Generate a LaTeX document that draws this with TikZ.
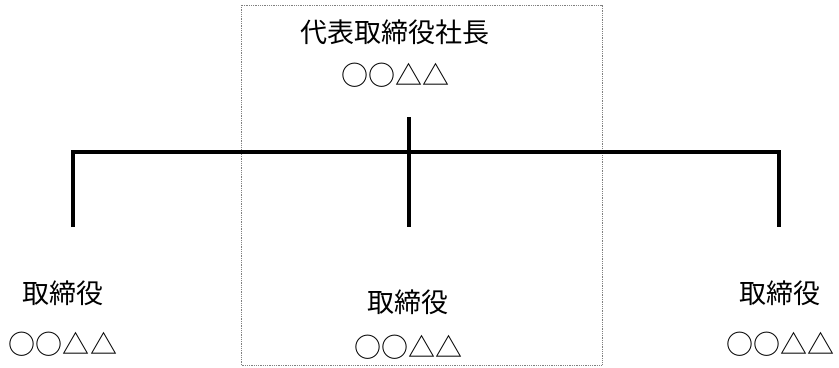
\documentclass[tikz,border=0pt]{standalone}
\usepackage{fontspec}
\setmainfont{Noto Sans CJK JP}
\begin{document}
\begin{tikzpicture}[x=1bp, y=1bp, node distance=51bp, align=center]
  \tikzstyle{post} = [inner sep=0pt, font=\fontsize{27bp}{31bp}\selectfont]
  \tikzstyle{link} = [line width=3.5bp, line join=miter]
  \tikzstyle{frame} = [densely dotted, line width=0.8bp, gray]

  \useasboundingbox (0,0) rectangle (839,367);
  \draw[frame] (241,2) rectangle (602,362);

  \node[post] (pres) at (395,335) {代表取締役社長};
  \node[post, below of=pres, node distance=43bp] (presname) {○○△△};
  \node[post] (left) at (63,74) {取締役};
  \node[post, below of=left] (leftname) {○○△△};
  \node[post] (mid) at (408,65) {取締役};
  \node[post, below of=mid, node distance=45bp] (midname) {○○△△};
  \node[post] (right) at (780,74) {取締役};
  \node[post, below of=right] (rightname) {○○△△};

  \coordinate (top) at (409,250);
  \coordinate (midend) at (409,140);
  \coordinate (leftbend) at (73,215);
  \coordinate (leftend) at (73,140);
  \coordinate (rightbend) at (779,215);
  \coordinate (rightend) at (779,140);

  \draw[link] (top) -- (midend);
  \draw[link] (leftend) -- (leftbend) -- (rightbend) -- (rightend);
\end{tikzpicture}
\end{document}
